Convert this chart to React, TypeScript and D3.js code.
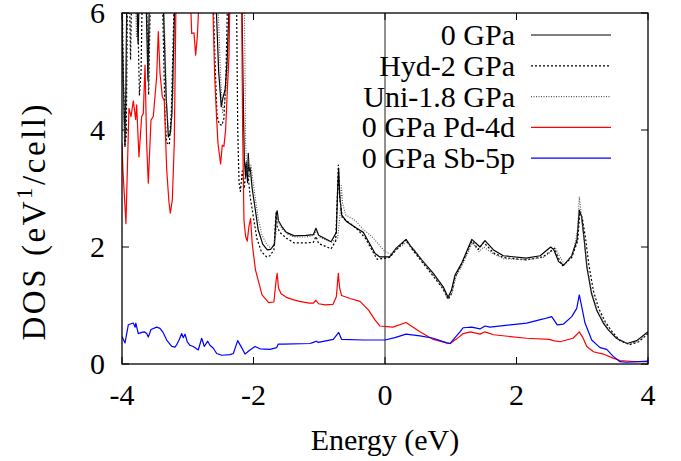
import React from "react";
import * as d3 from "d3";

const xTicks = [-4, -2, 0, 2, 4];
const yTicks = [0, 2, 4, 6];
const legendLabels = ["0 GPa", "Hyd-2 GPa", "Uni-1.8 GPa", "0 GPa Pd-4d", "0 GPa Sb-5p"];

const total0: [number, number][] = [
  [-4.0, 6.5], [-3.995, 5.54], [-3.975, 4.6], [-3.955, 3.72], [-3.94, 4.8], [-3.925, 6.5],
  [-3.78, 6.5], [-3.755, 5.48], [-3.735, 6.5], [-3.64, 6.5], [-3.605, 4.85], [-3.58, 6.5],
  [-3.38, 6.5], [-3.33, 4.6], [-3.295, 3.88], [-3.265, 3.95], [-3.24, 4.3], [-3.19, 6.5],
  [-2.58, 6.5], [-2.53, 5.0], [-2.49, 4.4], [-2.465, 4.55], [-2.43, 4.7], [-2.4, 5.2], [-2.36, 6.5],
  [-2.18, 6.5], [-2.155, 4.5], [-2.14, 3.5], [-2.12, 3.2], [-2.11, 3.45], [-2.09, 3.1], [-2.08, 3.6],
  [-2.065, 3.3], [-2.05, 3.35], [-2.02, 3.0], [-1.97, 2.62], [-1.93, 2.3], [-1.86, 2.05],
  [-1.79, 1.95], [-1.74, 1.96], [-1.68, 2.05], [-1.655, 2.55], [-1.64, 2.62], [-1.62, 2.45],
  [-1.57, 2.35], [-1.5, 2.25], [-1.38, 2.19], [-1.2, 2.2], [-1.09, 2.21], [-1.05, 2.32],
  [-1.01, 2.2], [-0.82, 2.09], [-0.74, 2.25], [-0.72, 3.0], [-0.705, 3.35], [-0.69, 2.9],
  [-0.66, 2.55], [-0.58, 2.43], [-0.43, 2.32], [-0.33, 2.25], [-0.25, 2.09], [-0.15, 1.89],
  [-0.08, 1.83], [0.07, 1.83], [0.17, 1.98], [0.32, 2.13], [0.4, 2.0], [0.58, 1.75],
  [0.735, 1.55], [0.885, 1.32], [0.96, 1.14], [1.01, 1.26], [1.065, 1.52], [1.165, 1.72],
  [1.32, 2.13], [1.445, 2.0], [1.52, 2.11], [1.65, 1.95], [1.8, 1.85], [2.15, 1.81],
  [2.36, 1.85], [2.52, 2.0], [2.57, 1.95], [2.64, 1.75], [2.72, 1.69], [2.84, 1.85],
  [2.92, 2.12], [2.955, 2.63], [2.99, 2.52], [3.03, 2.12], [3.07, 1.66], [3.14, 1.21],
  [3.22, 0.92], [3.32, 0.7], [3.4, 0.58], [3.52, 0.44], [3.68, 0.35], [3.83, 0.4], [4.0, 0.55],
];

const hyd2: [number, number][] = [
  [-4.0, 6.5], [-3.98, 5.0], [-3.955, 3.75], [-3.935, 3.9], [-3.915, 6.5],
  [-3.89, 6.5], [-3.87, 5.2], [-3.85, 6.5], [-3.77, 6.5], [-3.735, 4.6], [-3.71, 5.0], [-3.69, 6.5],
  [-3.63, 6.5], [-3.595, 4.6], [-3.565, 6.5],
  [-3.39, 6.5], [-3.345, 4.2], [-3.32, 3.78], [-3.28, 3.75], [-3.25, 4.3], [-3.2, 6.5],
  [-2.62, 6.5], [-2.58, 5.0], [-2.555, 4.25], [-2.52, 4.1], [-2.48, 4.08], [-2.45, 4.2], [-2.42, 4.9], [-2.39, 6.5],
  [-2.26, 6.5], [-2.24, 4.0], [-2.22, 3.1], [-2.2, 2.95], [-2.17, 3.3], [-2.14, 3.0], [-2.11, 3.4],
  [-2.08, 3.2], [-2.05, 2.85], [-2.0, 2.5], [-1.95, 2.15], [-1.88, 1.92], [-1.8, 1.83], [-1.75, 1.85],
  [-1.69, 1.95], [-1.665, 2.45], [-1.655, 2.6], [-1.64, 2.35], [-1.6, 2.25], [-1.5, 2.15],
  [-1.38, 2.07], [-1.2, 2.07], [-1.09, 2.08], [-1.05, 2.18], [-1.01, 2.06], [-0.82, 1.97],
  [-0.75, 2.1], [-0.72, 3.0], [-0.71, 3.4], [-0.69, 2.85], [-0.65, 2.5], [-0.55, 2.42],
  [-0.42, 2.3], [-0.3, 2.15], [-0.2, 1.95], [-0.12, 1.79], [-0.05, 1.8], [0.07, 1.82],
  [0.17, 1.95], [0.32, 2.12], [0.4, 1.98], [0.58, 1.72], [0.735, 1.5], [0.885, 1.28],
  [0.96, 1.1], [1.01, 1.2], [1.065, 1.48], [1.165, 1.7], [1.32, 2.1], [1.42, 1.96],
  [1.5, 2.08], [1.65, 1.9], [1.8, 1.82], [2.15, 1.78], [2.4, 1.83], [2.58, 1.98],
  [2.62, 1.85], [2.7, 1.68], [2.84, 1.82], [2.93, 2.1], [2.965, 2.6], [3.0, 2.5],
  [3.05, 2.15], [3.1, 1.7], [3.17, 1.25], [3.25, 0.95], [3.35, 0.72], [3.45, 0.56],
  [3.57, 0.4], [3.72, 0.33], [3.86, 0.38], [4.0, 0.52],
];

const uni18: [number, number][] = [
  [-4.0, 6.5], [-3.99, 5.2], [-3.965, 3.85], [-3.945, 4.2], [-3.92, 6.5],
  [-3.8, 6.5], [-3.78, 5.6], [-3.76, 6.5], [-3.63, 6.5], [-3.595, 4.7], [-3.57, 6.5],
  [-3.37, 6.5], [-3.32, 4.4], [-3.29, 3.95], [-3.255, 3.98], [-3.225, 4.6], [-3.18, 6.5],
  [-2.55, 6.5], [-2.5, 4.9], [-2.47, 4.3], [-2.44, 4.45], [-2.4, 4.9], [-2.35, 6.5],
  [-2.14, 6.5], [-2.12, 3.8], [-2.1, 3.25], [-2.08, 3.5], [-2.06, 3.2], [-2.04, 3.4],
  [-2.01, 3.15], [-1.98, 2.9], [-1.93, 2.5], [-1.87, 2.2], [-1.8, 2.05], [-1.74, 1.98],
  [-1.7, 2.0], [-1.66, 2.2], [-1.635, 2.55], [-1.61, 2.4], [-1.56, 2.3], [-1.48, 2.22],
  [-1.38, 2.17], [-1.2, 2.17], [-1.08, 2.2], [-1.04, 2.28], [-1.0, 2.17], [-0.82, 2.08],
  [-0.72, 2.15], [-0.68, 2.6], [-0.665, 3.05], [-0.645, 2.75], [-0.6, 2.55], [-0.45, 2.45],
  [-0.33, 2.3], [-0.2, 2.18], [-0.1, 2.05], [0.0, 1.92], [0.08, 1.88], [0.2, 1.98],
  [0.33, 2.08], [0.45, 1.95], [0.6, 1.72], [0.75, 1.5], [0.88, 1.3], [0.95, 1.12],
  [1.02, 1.2], [1.08, 1.5], [1.18, 1.7], [1.33, 2.07], [1.43, 1.92], [1.5, 2.0],
  [1.65, 1.88], [1.8, 1.8], [2.15, 1.78], [2.4, 1.82], [2.6, 1.97], [2.65, 1.85],
  [2.73, 1.7], [2.86, 1.88], [2.93, 2.3], [2.955, 2.86], [2.98, 2.6], [3.02, 2.2],
  [3.07, 1.7], [3.14, 1.25], [3.22, 0.95], [3.32, 0.73], [3.42, 0.56], [3.55, 0.42],
  [3.7, 0.34], [3.85, 0.39], [4.0, 0.53],
];

const pd4d: [number, number][] = [
  [-4.0, 3.77], [-3.985, 3.3], [-3.94, 2.4], [-3.894, 4.37], [-3.863, 4.23], [-3.828, 4.5],
  [-3.792, 4.18], [-3.777, 4.43], [-3.742, 3.54], [-3.701, 4.23], [-3.676, 4.28], [-3.65, 5.11],
  [-3.625, 3.77], [-3.6, 3.09], [-3.559, 4.17], [-3.524, 4.23], [-3.473, 4.91], [-3.448, 5.68],
  [-3.422, 4.97], [-3.387, 4.57], [-3.357, 4.5], [-3.32, 3.32], [-3.286, 2.77], [-3.265, 2.58],
  [-3.235, 2.8], [-3.205, 3.77], [-3.179, 6.2], [-3.0, 7], [-2.957, 6.2], [-2.94, 5.65],
  [-2.905, 5.66], [-2.88, 5.28], [-2.854, 5.6], [-2.83, 6.2], [-2.7, 7], [-2.62, 6.2],
  [-2.59, 4.91], [-2.56, 4.17], [-2.54, 3.77], [-2.5, 3.42], [-2.475, 3.74], [-2.45, 3.72],
  [-2.424, 4.0], [-2.4, 4.63], [-2.373, 5.26], [-2.36, 6.2], [-2.25, 7], [-2.18, 6.2],
  [-2.165, 4.0], [-2.145, 2.46], [-2.12, 2.18], [-2.095, 2.1], [-2.07, 2.35], [-2.044, 2.49],
  [-2.02, 2.06], [-1.97, 1.61], [-1.87, 1.18], [-1.77, 1.05], [-1.69, 1.06], [-1.655, 1.44],
  [-1.64, 1.55], [-1.62, 1.3], [-1.58, 1.2], [-1.5, 1.14], [-1.4, 1.1], [-1.3, 1.07],
  [-1.15, 1.04], [-1.09, 1.04], [-1.05, 1.09], [-1.01, 1.03], [-0.91, 1.01], [-0.79, 1.02],
  [-0.74, 1.15], [-0.71, 1.55], [-0.69, 1.3], [-0.66, 1.17], [-0.53, 1.12], [-0.38, 1.07],
  [-0.25, 0.92], [-0.15, 0.75], [-0.08, 0.65], [0.12, 0.63], [0.32, 0.71], [0.53, 0.55],
  [0.735, 0.42], [0.938, 0.36], [0.99, 0.35], [1.09, 0.43], [1.19, 0.52], [1.3, 0.55],
  [1.445, 0.51], [1.52, 0.55], [1.65, 0.5], [2.155, 0.44], [2.5, 0.42], [2.56, 0.4],
  [2.66, 0.38], [2.86, 0.44], [2.955, 0.55], [3.01, 0.45], [3.07, 0.3], [3.17, 0.21],
  [3.32, 0.17], [3.47, 0.1], [3.574, 0.06], [3.78, 0.04], [4.0, 0.04],
];

const sb5p: [number, number][] = [
  [-4.0, 0.47], [-3.954, 0.36], [-3.904, 0.67], [-3.828, 0.7], [-3.8, 0.63], [-3.79, 0.7],
  [-3.752, 0.52], [-3.7, 0.54], [-3.661, 0.55], [-3.624, 0.52], [-3.6, 0.46], [-3.559, 0.59],
  [-3.472, 0.63], [-3.422, 0.61], [-3.381, 0.55], [-3.32, 0.41], [-3.244, 0.3], [-3.194, 0.29],
  [-3.168, 0.33], [-3.129, 0.42], [-3.092, 0.52], [-3.068, 0.45], [-3.042, 0.51], [-3.007, 0.38],
  [-2.966, 0.32], [-2.916, 0.3], [-2.84, 0.24], [-2.788, 0.44], [-2.748, 0.3], [-2.697, 0.39],
  [-2.662, 0.32], [-2.611, 0.27], [-2.56, 0.18], [-2.484, 0.15], [-2.357, 0.16], [-2.307, 0.18],
  [-2.24, 0.4], [-2.18, 0.28], [-2.129, 0.17], [-2.053, 0.24], [-1.977, 0.3], [-1.901, 0.26],
  [-1.749, 0.25], [-1.647, 0.28], [-1.623, 0.34], [-1.547, 0.34], [-1.141, 0.35], [-1.09, 0.37],
  [-1.049, 0.39], [-1.014, 0.37], [-0.786, 0.42], [-0.704, 0.54], [-0.659, 0.42], [-0.33, 0.41],
  [0.0, 0.41], [0.152, 0.45], [0.319, 0.51], [0.532, 0.48], [0.735, 0.44], [0.938, 0.36],
  [0.989, 0.35], [1.065, 0.45], [1.14, 0.55], [1.19, 0.62], [1.319, 0.63], [1.445, 0.6],
  [1.521, 0.65], [1.597, 0.63], [2.155, 0.7], [2.408, 0.77], [2.535, 0.81], [2.62, 0.67],
  [2.712, 0.68], [2.84, 0.81], [2.916, 0.95], [2.955, 1.18], [2.992, 0.98], [3.042, 0.7],
  [3.144, 0.41], [3.27, 0.28], [3.372, 0.25], [3.472, 0.13], [3.574, 0.04], [3.676, 0.03],
  [4.0, 0.05],
];

const FONT = { fontFamily: "Liberation Serif" };

export default function App() {
  const W = 681, H = 461;
  const L = 122, R = 648, T = 13, B = 364;
  const x = d3.scaleLinear().domain([-4, 4]).range([L, R]);
  const y = d3.scaleLinear().domain([0, 6]).range([B, T]);
  const line = d3.line<[number, number]>().x((d) => x(d[0])).y((d) => y(d[1]));

  const series = [
    { data: total0, stroke: "#000", dash: undefined, w: 1.2 },
    { data: hyd2, stroke: "#000", dash: "2,2", w: 1.2 },
    { data: uni18, stroke: "#555", dash: "1,1.5", w: 1.1 },
    { data: pd4d, stroke: "#ff0000", dash: undefined, w: 1.2 },
    { data: sb5p, stroke: "#0000ff", dash: undefined, w: 1.2 },
  ];
  const tick = 7;
  const fs = 30;

  return (
    <svg width={W} height={H} style={{ position: "absolute", left: 0, top: 0, background: "#fff" }}>
      <defs>
        <clipPath id="plotclip">
          <rect x={L} y={T} width={R - L} height={B - T} />
        </clipPath>
      </defs>
      <rect x={0} y={0} width={W} height={H} fill="#fff" />
      <line x1={x(0)} x2={x(0)} y1={T} y2={B} stroke="#222" strokeWidth={1} />
      {xTicks.map((t) => (
        <g key={"xt" + t}>
          <line x1={x(t)} x2={x(t)} y1={B} y2={B - tick} stroke="#000" strokeWidth={1} />
          <line x1={x(t)} x2={x(t)} y1={T} y2={T + tick} stroke="#000" strokeWidth={1} />
          <text x={x(t)} y={405} textAnchor="middle" style={FONT} fontSize={fs} fill="#000">
            {t}
          </text>
        </g>
      ))}
      {yTicks.map((t) => (
        <g key={"yt" + t}>
          <line x1={L} x2={L + tick} y1={y(t)} y2={y(t)} stroke="#000" strokeWidth={1} />
          <line x1={R} x2={R - tick} y1={y(t)} y2={y(t)} stroke="#000" strokeWidth={1} />
          <text x={105} y={y(t) + 10} textAnchor="end" style={FONT} fontSize={fs} fill="#000">
            {t}
          </text>
        </g>
      ))}
      <g clipPath="url(#plotclip)">
        {series.map((s, i) => (
          <path
            key={i}
            d={line(s.data) || ""}
            fill="none"
            stroke={s.stroke}
            strokeWidth={s.w}
            strokeDasharray={s.dash}
            strokeLinejoin="round"
          />
        ))}
      </g>
      <rect x={L} y={T} width={R - L} height={B - T} fill="none" stroke="#000" strokeWidth={1.3} />
      {legendLabels.map((lab, i) => {
        const cy = 35 + i * 30.8;
        const s = series[i];
        return (
          <g key={lab}>
            <text x={515} y={cy + 10} textAnchor="end" style={FONT} fontSize={fs} fill="#000">
              {lab}
            </text>
            <line x1={531} x2={611} y1={cy} y2={cy} stroke={s.stroke} strokeWidth={s.w} strokeDasharray={s.dash} />
          </g>
        );
      })}
      <text x={(L + R) / 2} y={450} textAnchor="middle" style={FONT} fontSize={fs} fill="#000">
        Energy (eV)
      </text>
      <text
        transform={`translate(45, 222.5) rotate(-90)`}
        textAnchor="middle"
        style={FONT}
        fontSize={33}
        fill="#000"
        textLength={236}
        lengthAdjust="spacing"
      >
        DOS (eV<tspan dy={-13} fontSize={23}>1</tspan>
        <tspan dy={13}>/cell)</tspan>
      </text>
    </svg>
  );
}
